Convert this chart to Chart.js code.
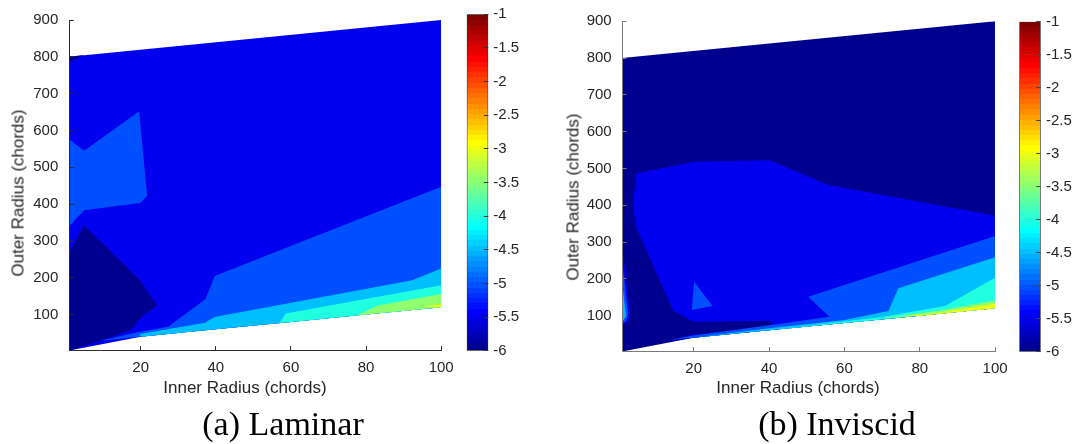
<!DOCTYPE html>
<html>
<head>
<meta charset="utf-8">
<script src="https://cdn.jsdelivr.net/npm/chart.js@4"></script>
<style>
html,body{margin:0;padding:0;background:#fff;}
#wrap{position:relative;width:1076px;height:444px;overflow:hidden;background:#fff;}
canvas{position:absolute;top:0;display:block;}
.lbl{position:absolute;font-family:"Liberation Sans",Arial,sans-serif;font-size:17px;color:#262626;white-space:nowrap;line-height:1;transform:translate(-50%,-50%);}
.rot{transform:translate(-50%,-50%) rotate(-90deg);}
.cap{position:absolute;font-family:"Liberation Serif","Times New Roman",serif;font-size:34px;color:#000;white-space:nowrap;line-height:1;transform:translate(-50%,-50%);}
</style>
</head>
<body>
<div id="wrap">
  <canvas id="cA" width="540" height="444" style="left:0px"></canvas>
  <canvas id="cbA" width="90" height="444" style="left:450px"></canvas>
  <canvas id="cB" width="536" height="444" style="left:540px"></canvas>
  <canvas id="cbB" width="76" height="444" style="left:1000px"></canvas>
  <div class="lbl" style="left:245px;top:387px">Inner Radius (chords)</div>
  <div class="lbl rot" style="left:18px;top:193px">Outer Radius (chords)</div>
  <div class="cap" style="left:283px;top:424px">(a) Laminar</div>
  <div class="lbl" style="left:798px;top:387px">Inner Radius (chords)</div>
  <div class="lbl rot" style="left:573px;top:197px">Outer Radius (chords)</div>
  <div class="cap" style="left:837px;top:424px">(b) Inviscid</div>
</div>
<script>
// ---------- axes / ticks ----------
const xRange = [1, 100];
const yRange = [2, 900];
const cbRange = [-6, -1];
const xTicks = [20, 40, 60, 80, 100];
const yTicks = [100, 200, 300, 400, 500, 600, 700, 800, 900];
const cbTicks = [-6, -5.5, -5, -4.5, -4, -3.5, -3, -2.5, -2, -1.5, -1];

// ---------- (a) Laminar: filled contour regions, painter's order ----------
const lamLevels = [-5.5, -6, -5, -6, -5, -4.5, -4, -3.5, -3];
const lamDomain = [[1,800],[100,900],[100,120],[80,100],[60,80],[40,60],[20,40],[1,2.5]];
const lamNavyTop = [[1,800],[4.95,804.8],[1,785.2]];
const lamLeftBand = [[1,575.5],[4.95,545.2],[19.6,651.9],[21.7,422.6],[19.9,403],[4.95,383.5],[1,340.8]];
const lamNavyCore = [[1,269.6],[4.93,342.7],[19.8,193.3],[24.4,124.8],[20.2,93.7],[17.5,58.1],[9.5,29.6],[1,2.5]];
const lamBand50 = [[100,447.5],[39.7,204.8],[37.3,142.7],[27.3,67],[19.8,53.6],[9.5,29.6],[20,40],[40,60],[60,80],[80,100],[100,120]];
const lamBand45 = [[100,225.2],[92.3,193.2],[39.7,93.6],[37.1,77.6],[19.8,47.5],[20,40],[40,60],[60,80],[80,100],[100,120]];
const lamBand40 = [[100,180],[58.6,102.7],[57,77.6],[60,80],[80,100],[100,120]];
const lamBand35 = [[100,156],[83.2,124.8],[77.5,97.5],[80,100],[100,120]];
const lamBand30 = [[100,128],[95.2,122],[100,120]];
const lamRegions = [lamDomain, lamNavyTop, lamLeftBand, lamNavyCore, lamBand50, lamBand45, lamBand40, lamBand35, lamBand30];

// ---------- (b) Inviscid ----------
const invLevels = [-6, -5.5, -5.5, -5, -4.5, -5, -5, -4.5, -4, -3.5, -3];
const invDomain = [[1,800],[100,900],[100,120],[80,100],[60,80],[40,60],[20,40],[1,2.5]];
const invBlob = [[4.87,487],[20.3,518.5],[40.2,522.3],[55.7,455],[100,371.7],[100,120],[80,100],[60,80],[40,60],[20,40],[12.8,32],[20,49],[40,69],[41.1,79.3],[40.2,86.4],[19.9,83.7],[14.6,113.6],[4.87,337.5],[3.8,400.8]];
const invSliver55 = [[1,300],[3.1,102],[2.5,85],[1,72]];
const invSliver50 = [[1,250],[2.6,102],[2,86],[1,78]];
const invSliver45 = [[1,190],[2,100],[1.5,90],[1,86]];
const invTri50 = [[20.1,192.4],[25,126.4],[19.5,115.5]];
const invBand50 = [[100,316.6],[50.4,151.6],[56,97],[41.5,76],[20,46],[14,35],[20,40],[40,60],[60,80],[80,100],[100,120]];
const invBand45 = [[100,258.7],[74.3,174.5],[71.7,112.8],[60,88],[40,66],[25,47],[20,40],[40,60],[60,80],[80,100],[100,120]];
const invBand40 = [[100,203.3],[86.7,126.4],[70,96],[50,72],[40,60],[60,80],[80,100],[100,120]];
const invBand35 = [[100,141],[85,113],[70,93],[80,100],[100,120]];
const invBand30 = [[100,132],[85,108],[75,97],[80,100],[100,120]];
const invRegions = [invDomain, invBlob, invSliver55, invSliver50, invSliver45, invTri50, invBand50, invBand45, invBand40, invBand35, invBand30];

// ---------- colour map (MATLAB jet, 64 rows) ----------
function jetRow(row) {
  const u = i => (i < 1 || i > 47) ? 0 : (i <= 16 ? i / 16 : (i <= 31 ? 1 : (48 - i) / 16));
  const c = v => Math.round(255 * v);
  return 'rgb(' + c(u(row - 24)) + ',' + c(u(row - 8)) + ',' + c(u(row + 8)) + ')';
}
function levelColor(level) {
  const row = Math.min(64, Math.floor((level - cbRange[0]) / (cbRange[1] - cbRange[0]) * 64 + 1e-9) + 1);
  return jetRow(row);
}
function jetGradient(chart) {
  const a = chart.chartArea;
  if (!a) return levelColor(-3.5);
  const g = chart.ctx.createLinearGradient(0, a.bottom, 0, a.top);
  for (let k = 0; k < 64; k++) {
    const c = jetRow(k + 1);
    g.addColorStop(k / 64, c);
    g.addColorStop((k + 1) / 64, c);
  }
  return g;
}

const FONT = '"Liberation Sans", Arial, sans-serif';

// inward tick marks (MATLAB style), placed through the chart scales
const inTicks = {
  id: 'inTicks',
  afterDatasetsDraw(chart, args, o) {
    if (!o || !o.len) return;
    const a = chart.chartArea, ctx = chart.ctx, L = o.len;
    const al = p => Math.round(p - 0.5) + 0.5;
    ctx.save();
    ctx.strokeStyle = o.color;
    ctx.lineWidth = 1;
    ctx.beginPath();
    (o.xTicks || []).forEach(v => {
      const p = al(chart.scales.x.getPixelForValue(v));
      ctx.moveTo(p, a.bottom); ctx.lineTo(p, a.bottom - L);
    });
    (o.yTicks || []).forEach(v => {
      const p = al(chart.scales.y.getPixelForValue(v));
      if (o.ySide === 'right') { ctx.moveTo(a.right, p); ctx.lineTo(a.right - L, p); }
      else { ctx.moveTo(a.left, p); ctx.lineTo(a.left + L, p); }
    });
    ctx.stroke();
    ctx.restore();
  }
};

function contourChart(id, regions, levels, box, axisColor) {
  const datasets = regions.map((pts, i) => ({
    data: pts.map(p => ({ x: p[0], y: p[1] })),
    backgroundColor: levelColor(levels[i]),
    borderColor: levelColor(levels[i]),
    borderWidth: 0,
    pointRadius: 0,
    pointHoverRadius: 0,
    fill: 'shape',
    tension: 0,
    order: -i
  }));
  const tickFont = { family: FONT, size: 15 };
  return new Chart(document.getElementById(id), {
    type: 'line',
    data: { datasets },
    options: {
      responsive: false, animation: false, devicePixelRatio: 1, events: [],
      layout: { padding: { left: 0, top: box.top, right: box.right, bottom: 0 } },
      plugins: {
        legend: { display: false }, tooltip: { enabled: false },
        inTicks: { xTicks: xTicks, yTicks: yTicks, len: 4.5, color: axisColor }
      },
      scales: {
        x: {
          type: 'linear', min: xRange[0], max: xRange[1],
          afterBuildTicks: s => { s.ticks = xTicks.map(v => ({ value: v })); },
          afterFit: s => { s.height = box.xh; },
          grid: { display: true, drawOnChartArea: false, drawTicks: false },
          border: { display: true, color: axisColor, width: 1, z: 1 },
          ticks: { padding: 8, color: '#262626', font: tickFont, maxRotation: 0, autoSkip: false, callback: v => String(v) }
        },
        y: {
          type: 'linear', min: yRange[0], max: yRange[1],
          afterBuildTicks: s => { s.ticks = yTicks.map(v => ({ value: v })); },
          afterFit: s => { s.width = box.yw; },
          grid: { display: true, drawOnChartArea: false, drawTicks: false },
          border: { display: true, color: axisColor, width: 1, z: 1 },
          ticks: { padding: box.tp, color: '#262626', font: tickFont, autoSkip: false, callback: v => String(v) }
        }
      }
    },
    plugins: [inTicks]
  });
}

function colorbar(id, box, edgeColor) {
  return new Chart(document.getElementById(id), {
    type: 'bar',
    data: {
      labels: [''],
      datasets: [{
        data: [cbRange],
        backgroundColor: ctx => jetGradient(ctx.chart),
        borderColor: edgeColor, borderWidth: 1, borderSkipped: false,
        barPercentage: 1, categoryPercentage: 1
      }]
    },
    options: {
      responsive: false, animation: false, devicePixelRatio: 1, events: [],
      layout: { padding: { left: box.left, top: box.top, right: 0, bottom: box.bottom } },
      plugins: {
        legend: { display: false }, tooltip: { enabled: false },
        inTicks: { yTicks: cbTicks, ySide: 'right', len: 4.5, color: edgeColor }
      },
      scales: {
        x: { display: false },
        y: {
          position: 'right', min: cbRange[0], max: cbRange[1],
          afterBuildTicks: s => { s.ticks = cbTicks.map(v => ({ value: v })); },
          afterFit: s => { s.width = box.yw; },
          grid: { display: false, drawTicks: false },
          border: { display: false },
          ticks: { padding: box.tp, color: '#262626', font: { family: FONT, size: 15 }, autoSkip: false, callback: v => String(v) }
        }
      }
    },
    plugins: [inTicks]
  });
}

contourChart('cA', lamRegions, lamLevels, { top: 14.3, right: 98.8, xh: 93.3, yw: 69.3, tp: 11 }, '#2b2b2b');
contourChart('cB', invRegions, invLevels, { top: 21.3, right: 80.9, xh: 92.3, yw: 82.1, tp: 10.4 }, '#7a7a7a');
colorbar('cbA', { left: 16.7, top: 14.3, bottom: 93.3, yw: 51.7, tp: 5 }, '#333333');
colorbar('cbB', { left: 19.3, top: 21.7, bottom: 92.3, yw: 35.3, tp: 5.3 }, '#444444');
</script>
</body>
</html>
